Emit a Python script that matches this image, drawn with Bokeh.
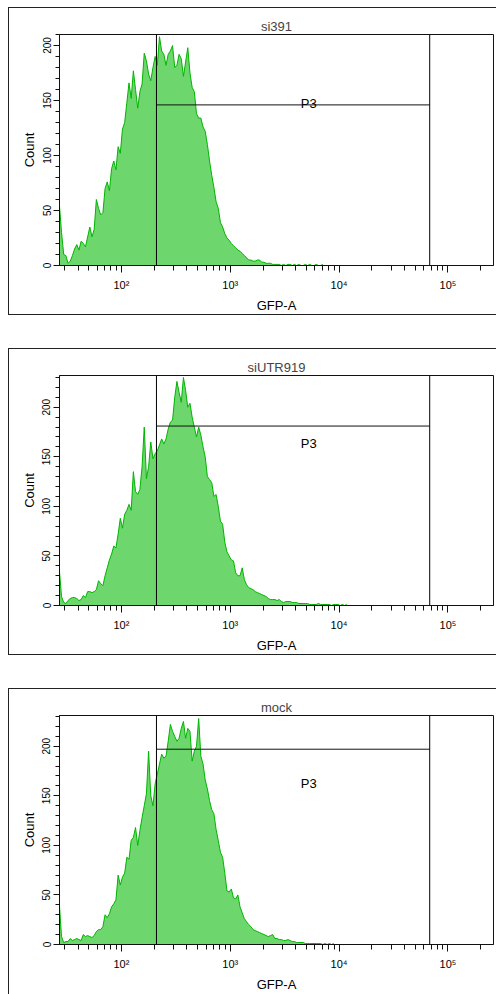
import numpy as np
from bokeh.plotting import figure
from bokeh.layouts import column
from bokeh.models import Range1d, FixedTicker, Span, Label, CustomJSTickFormatter
from bokeh.embed import file_html
from bokeh.resources import INLINE

# Histogram channels are equally wide in log10(GFP-A)
bin_start_log = 1.43
bin_step_log = 0.02

si391_counts = [
    56, 30, 10, 9, 2, 4, 9, 15, 19, 14,
    22, 20, 17, 26, 35, 26, 33, 60, 52, 46,
    48, 70, 76, 68, 88, 95, 87, 108, 102, 124,
    130, 148, 166, 152, 177, 160, 143, 158, 165, 193,
    186, 174, 168, 180, 190, 182, 208, 195, 192, 182,
    192, 195, 200, 180, 182, 192, 188, 172, 185, 198,
    175, 162, 158, 138, 134, 134, 126, 122, 110, 95,
    82, 71, 58, 52, 39, 35, 29, 25, 23, 20,
    18, 16, 14, 13, 11, 9, 7, 5, 5, 4,
    4, 5, 5, 3, 3, 2, 2, 2, 1, 1,
    1, 1, 0, 1, 0, 1, 1, 0, 1, 0,
    1, 0, 0, 1, 0, 1, 0, 0, 1, 0,
    0, 1,
]

siutr919_counts = [
    36, 9, 3, 2, 5, 7, 8, 8, 7, 5,
    6, 10, 8, 14, 14, 13, 14, 16, 25, 22,
    20, 30, 38, 46, 52, 60, 58, 72, 88, 78,
    92, 96, 102, 96, 135, 115, 112, 117, 140, 180,
    128, 140, 165, 148, 153, 156, 162, 168, 163, 168,
    178, 185, 187, 210, 226, 215, 205, 230, 217, 200,
    204, 190, 180, 170, 180, 172, 160, 150, 130, 127,
    124, 110, 112, 100, 85, 82, 64, 54, 50, 46,
    45, 33, 30, 30, 38, 26, 21, 18, 17, 16,
    14, 13, 12, 11, 10, 9, 7, 6, 6, 6,
    5, 6, 4, 3, 4, 4, 4, 3, 3, 3,
    2, 2, 2, 2, 2, 1, 1, 1, 1, 2,
    1, 1, 1, 1, 1, 0, 1, 1, 1, 0,
    1, 0, 1,
]

mock_counts = [
    41, 8, 2, 3, 3, 6, 4, 5, 6, 5,
    4, 10, 8, 9, 8, 7, 9, 13, 15, 15,
    18, 30, 27, 31, 38, 41, 45, 70, 60, 68,
    72, 88, 86, 105, 108, 118, 100, 115, 128, 140,
    152, 195, 150, 140, 162, 172, 182, 192, 188, 190,
    205, 222, 215, 210, 205, 208, 218, 225, 208, 218,
    215, 185, 195, 200, 228, 190, 182, 166, 157, 145,
    136, 132, 116, 105, 93, 88, 72, 54, 53, 56,
    47, 46, 50, 38, 32, 26, 23, 20, 18, 15,
    14, 13, 12, 11, 10, 9, 8, 9, 10, 6,
    6, 5, 5, 4, 4, 5, 4, 3, 3, 2,
    2, 2, 2, 1, 1, 1, 1, 1, 1, 1,
    1, 0, 1, 0, 1, 0, 1,
]

sample_names = ["si391", "siUTR919", "mock"]
sample_counts = [si391_counts, siutr919_counts, mock_counts]
count_axis_max = [210, 232, 231]

# P3 gate on GFP-A
gate_name = "P3"
gate_low = 210
gate_high = 68000
gate_bar_height = [146, 181, 197]
gate_label_count = [147.5, 163, 162.5]
gate_label_gfp = 5260

gfp_min, gfp_max = 27, 262144

FONT = "Liberation Sans"
FILL = "#6dd66d"
LINE = "#00b400"

major_x = [1e2, 1e3, 1e4, 1e5]
minor_x = [m * 10 ** e for e in range(1, 6) for m in range(2, 10)
           if gfp_min <= m * 10 ** e <= gfp_max]

sup_formatter = CustomJSTickFormatter(code="""
    const sup = {1: '\u00b9', 2: '\u00b2', 3: '\u00b3', 4: '\u2074', 5: '\u2075'};
    return '10' + sup[Math.round(Math.log10(tick))];
""")

heights = [308, 307, 306]
bottoms = [49, 49, 48]
tops = [7, 33, 33]
frames = [
    "inset 1px 1px 0 #222, inset 0 -1px 0 #222",
    "inset 1px 1px 0 #222, inset 0 -1px 0 #222",
    "inset 1px 1px 0 #222",
]


def make_panel(k):
    counts = sample_counts[k]
    ymax = count_axis_max[k]
    n = len(counts)
    # channel centres, starting at the left edge of the scale
    centres = 10 ** (bin_start_log + bin_step_log * np.arange(n))

    p = figure(width=488, height=heights[k], x_axis_type="log",
               x_range=Range1d(gfp_min, gfp_max), y_range=Range1d(0, ymax),
               output_backend="svg", toolbar_location=None, tools="",
               min_border_left=51, min_border_right=3, min_border_top=27,
               min_border_bottom=bottoms[k], margin=(tops[k], 0, 0, 8),
               border_fill_color=None, background_fill_color="white",
               outline_line_color="#111", outline_line_width=1,
               styles={"box-shadow": frames[k]})

    p.varea(x=centres, y1=0, y2=counts, fill_color=FILL, fill_alpha=1.0)
    p.line(x=centres, y=counts, line_color=LINE, line_width=1)

    # gate markers
    p.add_layout(Span(location=gate_low, dimension="height", line_color="black", line_width=1))
    p.add_layout(Span(location=gate_high, dimension="height", line_color="black", line_width=1))
    p.segment(x0=[gate_low], x1=[gate_high], y0=[gate_bar_height[k]], y1=[gate_bar_height[k]],
              line_color="#111", line_width=1)
    p.add_layout(Label(x=gate_label_gfp, y=gate_label_count[k], text=gate_name,
                       text_align="center", text_baseline="middle",
                       text_font=FONT, text_font_size="13px", text_color="black"))

    p.title.text = sample_names[k]
    p.title.align = "center"
    p.title.text_font = FONT
    p.title.text_font_size = "13px"
    p.title.text_font_style = "normal"
    p.title.standoff = 1

    p.xgrid.visible = False
    p.ygrid.visible = False

    xa = p.xaxis[0]
    xa.ticker = FixedTicker(ticks=major_x, minor_ticks=minor_x)
    xa.formatter = sup_formatter
    xa.axis_label = "GFP-A"
    xa.major_tick_out = 7
    xa.major_tick_in = 0
    xa.minor_tick_out = 5
    xa.minor_tick_in = 0
    xa.major_label_standoff = 6
    xa.axis_label_standoff = 4

    ya = p.yaxis[0]
    ya.ticker = FixedTicker(ticks=[0, 50, 100, 150, 200],
                            minor_ticks=list(range(0, ymax + 1, 10)))
    ya.axis_label = "Count"
    ya.major_label_orientation = "vertical"
    ya.major_tick_out = 6
    ya.major_tick_in = 0
    ya.minor_tick_out = 4
    ya.minor_tick_in = 0
    ya.major_label_standoff = 3
    ya.axis_label_standoff = 3

    for ax in (xa, ya):
        ax.axis_line_color = "#111"
        ax.major_tick_line_color = "#111"
        ax.minor_tick_line_color = "#111"
        ax.major_label_text_font = FONT
        ax.major_label_text_font_size = "10px"
        ax.major_label_text_color = "black"
        ax.axis_label_text_font = FONT
        ax.axis_label_text_font_size = "13px"
        ax.axis_label_text_font_style = "normal"
        ax.axis_label_text_color = "black"
    xa.major_label_text_font_size = "11px"
    return p


layout = column([make_panel(k) for k in range(3)], spacing=0)
open("out.html", "w").write(file_html(layout, INLINE))
